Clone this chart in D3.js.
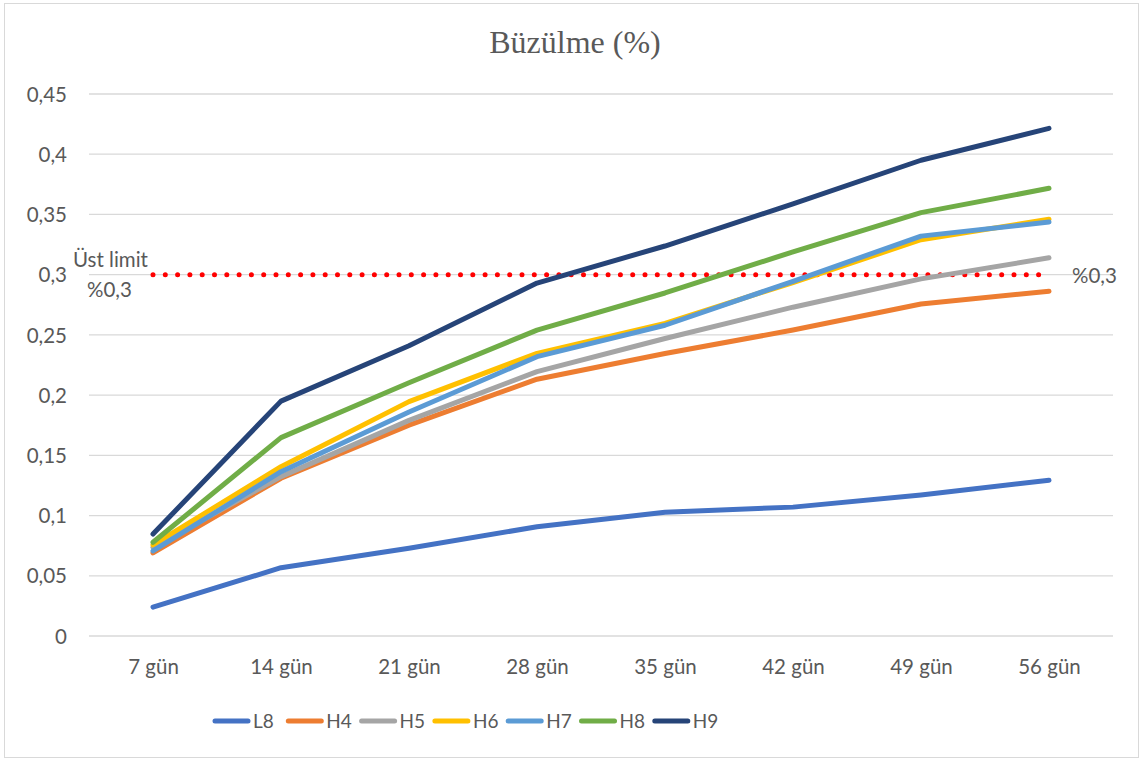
<!DOCTYPE html>
<html>
<head>
<meta charset="utf-8">
<script src="https://cdn.jsdelivr.net/npm/d3@7"></script>
<style>
  html, body { margin: 0; padding: 0; background: #fff; }
  svg { display: block; }
</style>
</head>
<body>
<svg id="chart" width="1141" height="760"></svg>
<script>
// Shrinkage (%) over curing age
const categories = ["7 gün", "14 gün", "21 gün", "28 gün", "35 gün", "42 gün", "49 gün", "56 gün"];
const seriesNames = ["L8", "H4", "H5", "H6", "H7", "H8", "H9"];
const L8 = [0.024, 0.0567, 0.0728, 0.0907, 0.1028, 0.107, 0.117, 0.1293];
const H4 = [0.069, 0.131, 0.175, 0.2132, 0.2345, 0.254, 0.2757, 0.2862];
const H5 = [0.0736, 0.1323, 0.179, 0.2195, 0.247, 0.273, 0.2965, 0.314];
const H6 = [0.0756, 0.1406, 0.1946, 0.2347, 0.2596, 0.2935, 0.329, 0.346];
const H7 = [0.0706, 0.1364, 0.186, 0.2319, 0.258, 0.2945, 0.332, 0.3437];
const H8 = [0.0778, 0.1647, 0.2103, 0.254, 0.2848, 0.319, 0.3515, 0.3717];
const H9 = [0.0847, 0.195, 0.241, 0.293, 0.3238, 0.3587, 0.395, 0.4215];
const seriesValues = [L8, H4, H5, H6, H7, H8, H9];
const seriesColors = ["#4472c4", "#ed7d31", "#a5a5a5", "#ffc000", "#5b9bd5", "#70ad47", "#264478"];
const yTicks = [0, 0.05, 0.1, 0.15, 0.2, 0.25, 0.3, 0.35, 0.4, 0.45];
const limitValue = 0.3;

const svg = d3.select("#chart");
const W = 1141, H = 760;
const plot = { left: 89, right: 1113, top: 94, bottom: 636 };
const font = "Lato, 'Open Sans', sans-serif";
const fontSize = 20.5;
const textColor = "#595959";

// chart frame
svg.append("rect")
  .attr("x", 4.5).attr("y", 3.5)
  .attr("width", W - 7).attr("height", H - 6)
  .attr("fill", "#fff").attr("stroke", "#d9d9d9").attr("stroke-width", 1);

const x = d3.scalePoint().domain(categories).range([plot.left, plot.right]).padding(0.5);
const y = d3.scaleLinear().domain([0, 0.45]).range([plot.bottom, plot.top]);

const fmt = v => String(+v.toFixed(2)).replace(".", ",");

// horizontal gridlines
svg.append("g")
  .selectAll("line")
  .data(yTicks)
  .join("line")
  .attr("x1", plot.left).attr("x2", plot.right)
  .attr("y1", d => y(d)).attr("y2", d => y(d))
  .attr("stroke", "#d9d9d9").attr("stroke-width", 1.3);

// y axis labels
const yAxis = svg.append("g")
  .attr("transform", `translate(${plot.left - 22},0)`)
  .call(d3.axisLeft(y).tickValues(yTicks).tickFormat(fmt).tickSize(0).tickPadding(0));
yAxis.select(".domain").remove();
yAxis.selectAll("text")
  .attr("font-family", font).attr("font-size", fontSize).attr("fill", textColor)
  .attr("dy", "0.35em");

// x axis labels
const xAxis = svg.append("g")
  .attr("transform", `translate(0,${plot.bottom + 23})`)
  .call(d3.axisBottom(x).tickSize(0).tickPadding(0));
xAxis.select(".domain").remove();
xAxis.selectAll("text")
  .attr("font-family", font).attr("font-size", fontSize).attr("fill", textColor)
  .attr("dy", "0.72em");

// upper limit line (dotted red)
svg.append("line")
  .attr("x1", x(categories[0])).attr("x2", x(categories[categories.length - 1]))
  .attr("y1", y(limitValue)).attr("y2", y(limitValue))
  .attr("stroke", "#ff0000").attr("stroke-width", 5)
  .attr("stroke-linecap", "round")
  .attr("stroke-dasharray", "0 12.3");

// series lines
const line = d3.line()
  .x((d, i) => x(categories[i]))
  .y(d => y(d));

svg.append("g")
  .selectAll("path")
  .data(seriesValues)
  .join("path")
  .attr("d", d => line(d))
  .attr("fill", "none")
  .attr("stroke", (d, i) => seriesColors[i])
  .attr("stroke-width", 5)
  .attr("stroke-linecap", "round")
  .attr("stroke-linejoin", "round");

// limit annotations
svg.append("text")
  .attr("x", 73).attr("y", y(limitValue) - 8)
  .attr("font-family", font).attr("font-size", fontSize).attr("fill", textColor)
  .text("Üst limit");
svg.append("text")
  .attr("x", 87).attr("y", y(limitValue) + 22)
  .attr("font-family", font).attr("font-size", fontSize).attr("fill", textColor)
  .text("%" + fmt(limitValue));
svg.append("text")
  .attr("x", 1072).attr("y", y(limitValue) + 8)
  .attr("font-family", font).attr("font-size", fontSize).attr("fill", textColor)
  .text("%" + fmt(limitValue));

// title
svg.append("text")
  .attr("x", 575).attr("y", 53)
  .attr("text-anchor", "middle")
  .attr("font-family", "'Liberation Serif', 'DejaVu Serif', serif")
  .attr("font-size", 32).attr("fill", textColor)
  .text("Büzülme (%)");

// legend
const legend = svg.append("g").attr("transform", "translate(213,721)");
const item = legend.selectAll("g")
  .data(seriesNames)
  .join("g")
  .attr("transform", (d, i) => `translate(${i * 73.3},0)`);
item.append("line")
  .attr("x1", 2).attr("x2", 35).attr("y1", 0).attr("y2", 0)
  .attr("stroke", (d, i) => seriesColors[i])
  .attr("stroke-width", 5).attr("stroke-linecap", "round");
item.append("text")
  .attr("x", 40).attr("y", 0).attr("dy", "0.35em")
  .attr("font-family", font).attr("font-size", 19).attr("fill", textColor)
  .text(d => d);
</script>
</body>
</html>
